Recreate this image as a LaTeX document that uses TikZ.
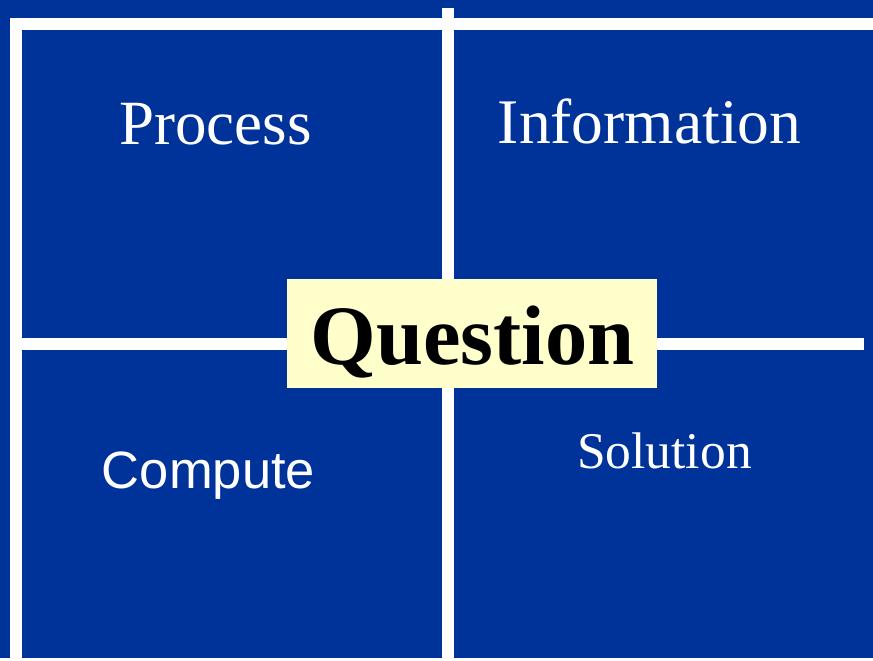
\documentclass[tikz,border=0pt]{standalone}
\usepackage{fontspec}
\setmainfont{Liberation Serif}
\newfontfamily\arialfont{Liberation Sans}
\definecolor{bgblue}{HTML}{003399}
\definecolor{qyellow}{HTML}{FFFFCC}
\tikzset{
  divider/.style={fill=white},
  label/.style={text=white, anchor=base, inner sep=0pt},
}
\begin{document}
\begin{tikzpicture}[x=1pt, y=-1pt]
\useasboundingbox (0,0) rectangle (873,661);
% background
\fill[white] (0,0) rectangle (873,661);
\fill[bgblue] (0,0) rectangle (873,658);
% white dividers
\fill[divider] (10,18) rectangle (873,30);
\fill[divider] (10,18) rectangle (22,661);
\fill[divider] (442,8) rectangle (454,661);
\fill[divider] (22,338) rectangle (864,350);
% labels
\node[label, font=\fontsize{63}{63}\selectfont] (process) at (215.5,144) {Process};
\node[label, font=\fontsize{63.5}{63.5}\selectfont] (information) at (649.5,143) {Information};
\node[label, font=\arialfont\fontsize{52.5}{52.5}\selectfont] (compute) at (208.5,488) {Compute};
\node[label, font=\fontsize{51.5}{51.5}\selectfont] (solution) at (664.5,468) {Solution};
% question box
\fill[qyellow] (287,279) rectangle (657,388);
\node[anchor=base, inner sep=0pt, text=black, font=\bfseries\fontsize{84.5}{84.5}\selectfont] (question) at (472.5,364) {Question};
\end{tikzpicture}
\end{document}
